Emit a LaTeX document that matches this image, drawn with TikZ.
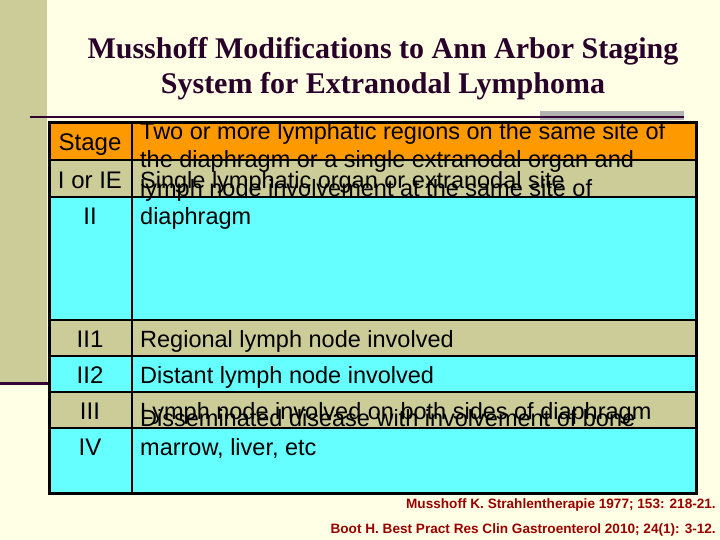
\documentclass[tikz,border=0pt]{standalone}
\usepackage{fontspec}
\setmainfont{Liberation Sans}
\newfontfamily\titlefont{Liberation Serif}
\usetikzlibrary{positioning}
\definecolor{paper}{HTML}{FFFFE6}
\definecolor{strip}{HTML}{CCCC99}
\definecolor{hdr}{HTML}{FF9900}
\definecolor{rowk}{HTML}{CCCC99}
\definecolor{rowc}{HTML}{66FFFF}
\definecolor{rule}{HTML}{330033}
\definecolor{cite}{HTML}{990000}
\tikzset{cell/.style={draw=black,line width=1.5pt},
  stagetxt/.style={anchor=base,font=\fontsize{24}{28.6}\selectfont,inner sep=0pt},
  desctxt/.style={anchor=base west,align=left,font=\fontsize{23.5}{28.6}\selectfont,inner sep=0pt},
  citetxt/.style={anchor=base east,font=\bfseries\fontsize{13.6}{16}\selectfont,text=cite,inner sep=0pt}}
\begin{document}
\begin{tikzpicture}[x=1pt,y=-1pt]
  % background
  \fill[paper] (0,0) rectangle (720,540);
  \useasboundingbox (0,0) rectangle (720,540);
  \fill[strip] (0,0) rectangle (47,382);
  \draw[rule,line width=3pt] (0,383) -- (50,383);
  \fill[gray!60] (540,111) rectangle (684,120);
  \draw[rule,line width=2.5pt] (30,117) -- (684,117);

  % title
  \node (title) [font=\titlefont\bfseries\fontsize{30}{35}\selectfont,align=center,text=rule!80!black] at (383,69)
    {Musshoff Modifications to Ann Arbor Staging\\System for Extranodal Lymphoma};

  % table rows
  \foreach \ya/\yb/\col in {123/160/hdr, 160/197/rowk, 197/320/rowc, 320/356/rowk, 356/392/rowc, 392/428/rowk, 428/493/rowc}
    {\filldraw[cell,fill=\col] (49,\ya) rectangle (132,\yb);
     \filldraw[cell,fill=\col] (132,\ya) rectangle (696,\yb);}
  \draw[line width=3pt] (49,123) rectangle (696,493);

  % stage column
  \node (s0) [stagetxt] at (90,151) {Stage};
  \node (s1) [stagetxt] at (90,189) {I or IE};
  \node (s2) [stagetxt] at (90,225) {II};
  \node (s3) [stagetxt] at (90,347) {II1};
  \node (s4) [stagetxt] at (90,383) {II2};
  \node (s5) [stagetxt] at (90,419) {III};
  \node (s6) [stagetxt] at (90,455) {IV};

  % description column
  \node (d1) [desctxt] at (140,189) {Single lymphatic organ or extranodal site};
  \node (d2) [desctxt] at (140,225) {Two or more lymphatic regions on the same site of\\the diaphragm or a single extranodal organ and\\lymph node involvement at the same site of\\diaphragm};
  \node (d3) [desctxt] at (140,347) {Regional lymph node involved};
  \node (d4) [desctxt] at (140,383) {Distant lymph node involved};
  \node (d5) [desctxt] at (140,419) {Lymph node involved on both sides of diaphragm};
  \node (d6) [desctxt] at (140,455) {Disseminated disease with involvement of bone\\marrow, liver, etc};

  % references
  \node (c1) [citetxt] at (716,508) {Musshoff K. Strahlentherapie 1977; 153: 218-21.};
  \node (c2) [citetxt] at (716,533) {Boot H. Best Pract Res Clin Gastroenterol 2010; 24(1): 3-12.};
\end{tikzpicture}
\end{document}
